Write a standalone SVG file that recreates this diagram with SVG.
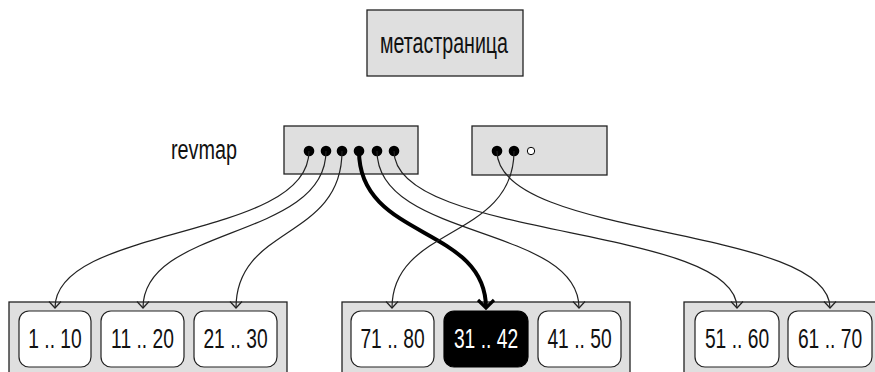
<svg xmlns="http://www.w3.org/2000/svg" width="875" height="372" viewBox="0 0 875 372">
<style>
.box{fill:#dfdfdf;stroke:#222;stroke-width:1.3}
.cell{fill:#fff;stroke:#222;stroke-width:1.2}
.cellb{fill:#000;stroke:#000;stroke-width:1.2}
.t{font-family:"Liberation Sans",Arial,sans-serif;fill:#111}
.ct{font-family:"Liberation Sans",Arial,sans-serif;font-size:27.5px;text-anchor:middle;fill:#111}
.dot{fill:#000}
.odot{fill:#fff;stroke:#000;stroke-width:1}
.c{fill:none;stroke:#222;stroke-width:1.2;marker-end:url(#a)}
.ck{fill:none;stroke:#000;stroke-width:4;marker-end:url(#ak)}
</style>
<defs>
<marker id="a" markerUnits="userSpaceOnUse" markerWidth="16" markerHeight="16" viewBox="-8 -8 16 16" refX="0" refY="0" orient="auto" overflow="visible">
<path d="M-6.5,-6 L0,0 L-6.5,6" fill="none" stroke="#222" stroke-width="1.2"/>
</marker>
<marker id="ak" markerUnits="userSpaceOnUse" markerWidth="20" markerHeight="20" viewBox="-10 -10 20 20" refX="0" refY="0" orient="auto" overflow="visible">
<path d="M-8,-8 L0,0 L-8,8" fill="none" stroke="#000" stroke-width="3.2"/>
</marker>
</defs>

<g id="meta">
<rect class="box" x="367" y="10" width="156" height="66"/>
<text class="t" x="444" y="53" font-size="30" text-anchor="middle" textLength="128" lengthAdjust="spacingAndGlyphs">метастраница</text>
</g>

<g id="revmap-label">
<text class="t" x="171" y="159" font-size="27" textLength="66" lengthAdjust="spacingAndGlyphs">revmap</text>
</g>

<g id="revmap1">
<rect class="box" x="284" y="126" width="134" height="48"/>
<circle class="dot" cx="309" cy="151" r="5.3"/>
<circle class="dot" cx="326" cy="151" r="5.3"/>
<circle class="dot" cx="342" cy="151" r="5.3"/>
<circle class="dot" cx="359" cy="151" r="5.3"/>
<circle class="dot" cx="377" cy="151" r="5.3"/>
<circle class="dot" cx="394" cy="151" r="5.3"/>
</g>

<g id="revmap2">
<rect class="box" x="472" y="126" width="135" height="49"/>
<circle class="dot" cx="497" cy="151" r="5.3"/>
<circle class="dot" cx="514" cy="151" r="5.3"/>
<circle class="odot" cx="531" cy="151" r="3.7"/>
</g>

<g id="page1">
<rect class="box" x="9" y="302" width="278" height="80"/>
<rect class="cell" x="19" y="311" width="72" height="56" rx="10"/>
<text class="ct" transform="translate(55,348) scale(0.7,1)">1 .. 10</text>
<rect class="cell" x="101" y="311" width="83" height="56" rx="10"/>
<text class="ct" transform="translate(142.5,348) scale(0.7,1)">11 .. 20</text>
<rect class="cell" x="194" y="311" width="83" height="56" rx="10"/>
<text class="ct" transform="translate(235.5,348) scale(0.7,1)">21 .. 30</text>
</g>

<g id="page2">
<rect class="box" x="342" y="302" width="288" height="80"/>
<rect class="cell" x="351" y="311" width="83" height="56" rx="10"/>
<text class="ct" transform="translate(392.5,348) scale(0.7,1)">71 .. 80</text>
<rect class="cellb" x="444" y="311" width="84" height="56" rx="10"/>
<text class="ct" transform="translate(486,348) scale(0.7,1)" style="fill:#fff">31 .. 42</text>
<rect class="cell" x="538" y="311" width="83" height="56" rx="10"/>
<text class="ct" transform="translate(579.5,348) scale(0.7,1)">41 .. 50</text>
</g>

<g id="page3">
<rect class="box" x="684" y="302" width="192" height="80"/>
<rect class="cell" x="695" y="311" width="84" height="56" rx="10"/>
<text class="ct" transform="translate(737,348) scale(0.7,1)">51 .. 60</text>
<rect class="cell" x="788" y="311" width="84" height="56" rx="10"/>
<text class="ct" transform="translate(830,348) scale(0.7,1)">61 .. 70</text>
</g>

<g id="connectors">
<path class="c" d="M309,151 C309,240 55,225 55,308"/>
<path class="c" d="M326,151 C326,240 143,225 143,308"/>
<path class="c" d="M342,151 C342,240 236,225 236,308"/>
<path class="ck" d="M359,151 C359,240 486,225 486,308"/>
<path class="c" d="M377,151 C377,240 579,225 579,308"/>
<path class="c" d="M394,151 C394,240 737,225 737,308"/>
<path class="c" d="M497,151 C497,240 830,225 830,308"/>
<path class="c" d="M514,151 C514,240 392,225 392,308"/>
</g>
</svg>
